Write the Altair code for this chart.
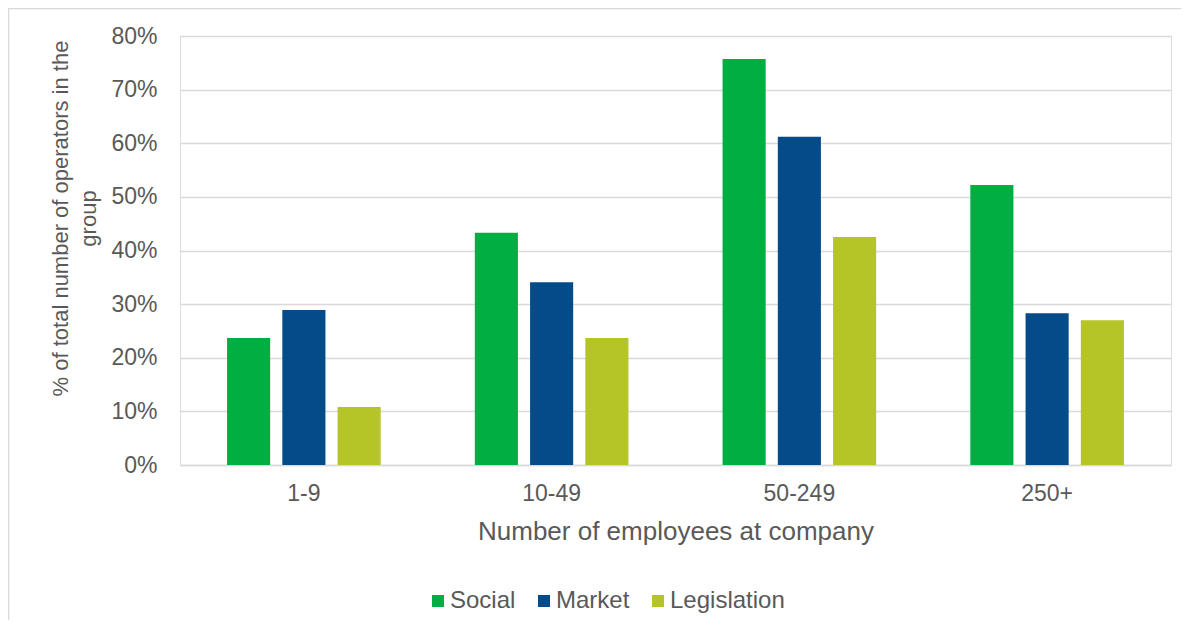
import altair as alt
import pandas as pd

groups = ["1-9", "10-49", "50-249", "250+"]
series = ["Social", "Market", "Legislation"]
social = [0.237, 0.433, 0.757, 0.522]
market = [0.289, 0.341, 0.612, 0.283]
legislation = [0.108, 0.237, 0.425, 0.270]
colors = ["#00AE42", "#044B89", "#B5C427"]

rows = []
for i, g in enumerate(groups):
    for s, vals in zip(series, [social, market, legislation]):
        rows.append({"group": g, "series": s, "value": vals[i]})
df = pd.DataFrame(rows)

FONT = "Liberation Sans"
GREY = "#595959"

bars = alt.Chart(df).mark_bar().encode(
    x=alt.X("group:N", sort=groups,
            scale=alt.Scale(paddingInner=0.38, paddingOuter=0.19),
            axis=alt.Axis(title="Number of employees at company", labelAngle=0,
                          labelFontSize=23, titleFontSize=26, labelPadding=17,
                          titlePadding=13, ticks=False, domain=True,
                          domainColor="#d9d9d9", domainWidth=1.3,
                          labelColor=GREY, titleColor=GREY,
                          labelFont=FONT, titleFont=FONT, titleFontWeight="normal")),
    xOffset=alt.XOffset("series:N", sort=series,
                        scale=alt.Scale(paddingInner=0.22, paddingOuter=0)),
    y=alt.Y("value:Q",
            scale=alt.Scale(domain=[0, 0.8], nice=False),
            axis=alt.Axis(title=["% of total number of operators in the", "group"],
                          format=".0%", values=[0, 0.1, 0.2, 0.3, 0.4, 0.5, 0.6, 0.7, 0.8],
                          labelFontSize=23, titleFontSize=22, labelPadding=23,
                          titlePadding=10, ticks=False, domain=False,
                          grid=True, gridColor="#d9d9d9", gridWidth=1.3,
                          labelColor=GREY, titleColor=GREY,
                          labelFont=FONT, titleFont=FONT, titleFontWeight="normal",
                          titleLineHeight=28, titleY=182)),
    color=alt.Color("series:N", sort=series,
                    scale=alt.Scale(domain=series, range=colors),
                    legend=alt.Legend(title=None, orient="none", direction="horizontal",
                                      legendX=246, legendY=553,
                                      symbolType="square", symbolSize=144,
                                      symbolStrokeWidth=0,
                                      labelFontSize=24, labelFont=FONT, labelColor=GREY,
                                      labelOffset=0, columnPadding=16)),
)

frame = alt.Chart(pd.DataFrame({"a": [0]})).mark_rect(
    fill=None, stroke="#d9d9d9", strokeWidth=1.5
).encode(
    x=alt.value(-171.5), x2=alt.value(1500),
    y=alt.value(-27.5), y2=alt.value(1500)
)

chart = alt.layer(frame, bars).properties(
    width=991, height=429,
    autosize=alt.AutoSizeParams(type="none"),
    padding={"left": 172, "top": 28, "right": 10, "bottom": 155},
).configure_view(stroke=None).configure(font=FONT)

chart.save("out.html", embed_options={"renderer": "svg", "actions": False})
